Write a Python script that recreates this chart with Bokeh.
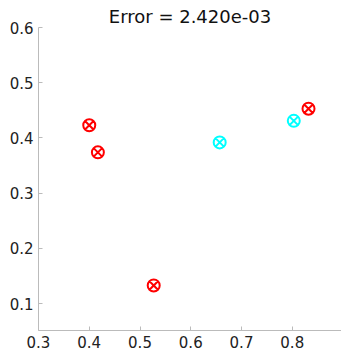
from bokeh.plotting import figure
from bokeh.embed import file_html
from bokeh.resources import INLINE
from bokeh.models import Range1d, FixedTicker

red_x = [0.400, 0.417, 0.527, 0.832]
red_y = [0.423, 0.374, 0.133, 0.453]
cyan_x = [0.657, 0.803]
cyan_y = [0.392, 0.431]
x_ticks = [0.3, 0.4, 0.5, 0.6, 0.7, 0.8]
y_ticks = [0.1, 0.2, 0.3, 0.4, 0.5, 0.6]
title_text = "Error = 2.420e-03"

p = figure(width=341, height=352, output_backend="svg", toolbar_location=None,
           x_range=Range1d(0.3, 0.897), y_range=Range1d(0.0515, 0.6),
           title=title_text, min_border_left=38, min_border_right=0,
           min_border_top=27, min_border_bottom=22)
p.title.align = "center"
p.title.text_font = "DejaVu Sans"
p.title.text_font_size = "18px"
p.title.text_font_style = "normal"
p.title.text_color = "#111111"
p.title.standoff = 2
p.outline_line_color = None
p.xgrid.visible = False
p.ygrid.visible = False

for ax in (p.xaxis[0], p.yaxis[0]):
    ax.axis_line_color = "#bbbbbb"
    ax.major_tick_line_color = "#bbbbbb"
    ax.major_tick_in = 4
    ax.major_tick_out = 0
    ax.minor_tick_line_color = None
    ax.major_label_text_font = "DejaVu Sans"
    ax.major_label_text_font_size = "15px"
    ax.major_label_text_color = "#222222"
    ax.major_label_standoff = 5
p.xaxis[0].ticker = FixedTicker(ticks=x_ticks)
p.yaxis[0].ticker = FixedTicker(ticks=y_ticks)

p.scatter(red_x, red_y, marker="circle_x", size=12, fill_color=None,
          line_color="#ff0000", line_width=2)
p.scatter(cyan_x, cyan_y, marker="circle_x", size=12, fill_color=None,
          line_color="#00ffff", line_width=2)

open("out.html", "w").write(file_html(p, INLINE))
